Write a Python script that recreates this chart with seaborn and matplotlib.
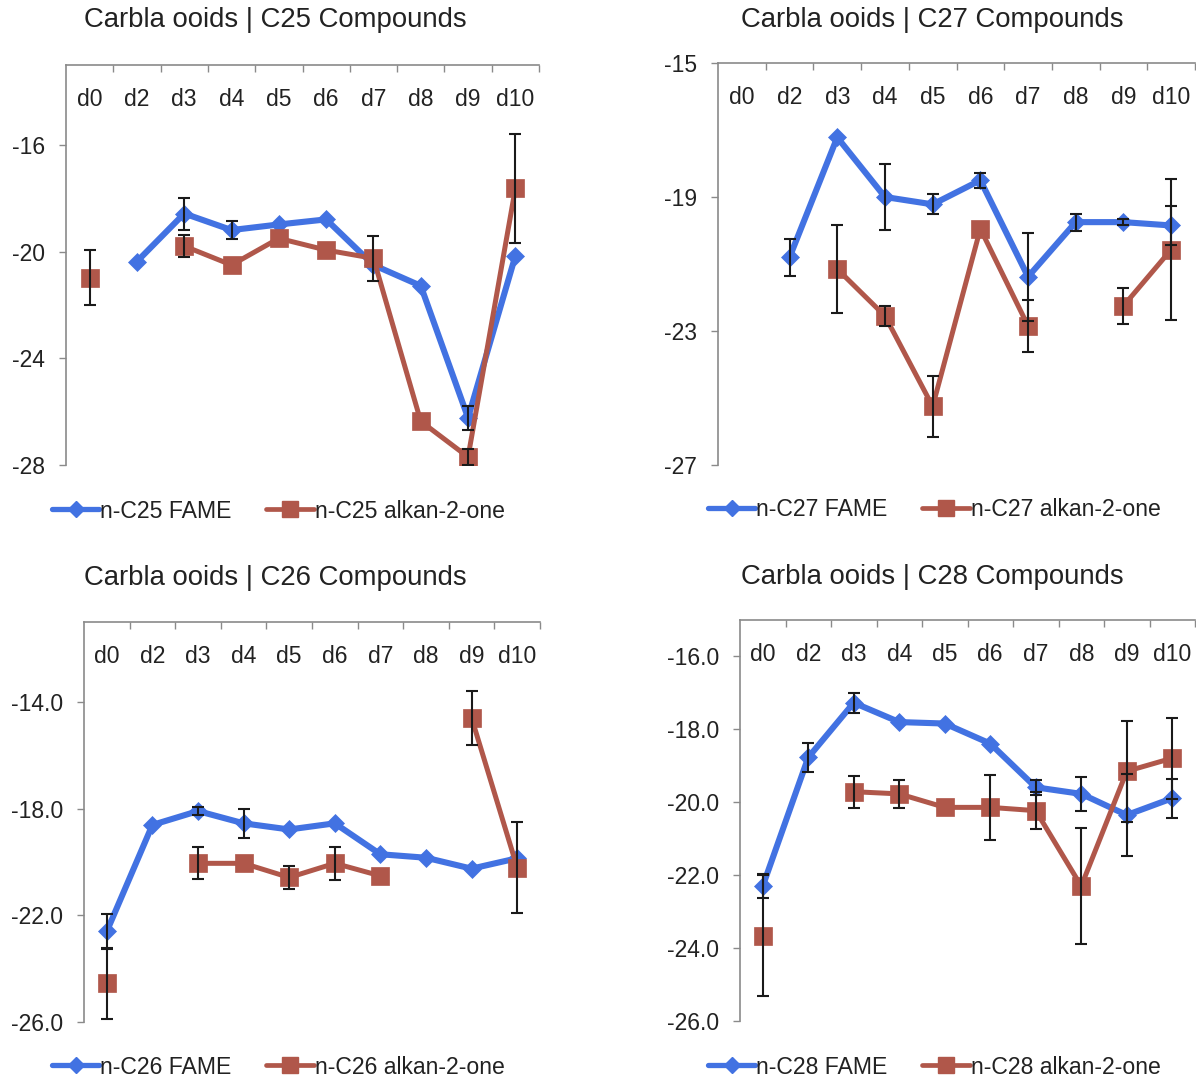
import numpy as np
import pandas as pd
import matplotlib
matplotlib.use('Agg')
import matplotlib.pyplot as plt
import seaborn as sns
from matplotlib.lines import Line2D
from matplotlib.ticker import FixedLocator, FormatStrFormatter

sns.set_theme(style='white')
plt.rcParams['font.family'] = ['Liberation Sans', 'DejaVu Sans']

nan = np.nan
days = ['d0', 'd2', 'd3', 'd4', 'd5', 'd6', 'd7', 'd8', 'd9', 'd10']

# C25
fame25 = [nan, -20.37, -18.57, -19.19, -18.98, -18.79, -20.5, -21.28, -26.23, -20.16]
fame25_err = [nan, nan, 0.6, 0.33, nan, nan, nan, nan, 0.45, nan]
ket25 = [-20.97, nan, -19.79, -20.5, -19.5, -19.94, -20.25, -26.36, -27.7, -17.63]
ket25_err = [1.03, nan, 0.4, nan, nan, nan, 0.84, nan, 0.3, 2.06]

# C27
fame27 = [nan, -20.8, -17.22, -19.0, -19.22, -18.5, -21.38, -19.75, -19.75, -19.85]
fame27_err = [nan, 0.55, nan, 0.98, 0.3, 0.22, 1.31, 0.25, 0.1, 0.57]
ket27 = [nan, nan, -21.15, -22.55, -25.25, -19.95, -22.85, nan, -22.25, -20.57]
ket27_err = [nan, nan, 1.3, 0.3, 0.92, nan, 0.78, nan, 0.53, 2.1]

# C26
fame26 = [-22.6, -18.61, -18.09, -18.55, -18.78, -18.55, -19.71, -19.84, -20.25, -19.86]
fame26_err = [0.65, nan, 0.15, 0.54, nan, nan, nan, nan, nan, nan]
ket26 = [-24.55, nan, -20.05, -20.05, -20.58, -20.05, -20.52, nan, -14.6, -20.21]
ket26_err = [1.33, nan, 0.6, nan, 0.42, 0.63, nan, nan, 1.0, 1.7]

# C28
fame28 = [-22.3, -18.77, -17.27, -17.8, -17.84, -18.39, -19.59, -19.77, -20.35, -19.89]
fame28_err = [0.32, 0.39, 0.27, nan, nan, nan, 0.2, 0.47, 1.12, 0.54]
ket28 = [-23.66, nan, -19.71, -19.77, -20.14, -20.14, -20.23, -22.3, -19.15, -18.79]
ket28_err = [1.66, nan, 0.44, 0.38, nan, 0.9, 0.5, 1.6, 1.38, 1.11]

BLUE = '#4272E2'
RED = '#B0574A'
TXT = '#222222'
SPINE = '#8a8a8a'

W, H = 1196, 1082
fig = plt.figure(figsize=(W / 100, H / 100), dpi=100)


def add_ax(l, t, r, b):
    return fig.add_axes([l / W, 1 - b / H, (r - l) / W, (b - t) / H])


panels = [
    dict(c='C25', fame=fame25, fe=fame25_err, ket=ket25, ke=ket25_err,
         box=(66, 65, 539, 465), ylim=(-28, -13), yt=[-28, -24, -20, -16], fmt='%d',
         title=(275, 20), leg=(52, 511)),
    dict(c='C27', fame=fame27, fe=fame27_err, ket=ket27, ke=ket27_err,
         box=(718, 63, 1195, 465), ylim=(-27, -15), yt=[-27, -23, -19, -15], fmt='%d',
         title=(932, 20), leg=(708, 510)),
    dict(c='C26', fame=fame26, fe=fame26_err, ket=ket26, ke=ket26_err,
         box=(84, 622, 540, 1022), ylim=(-26, -11), yt=[-26, -22, -18, -14], fmt='%.1f',
         title=(275, 578), leg=(52, 1067)),
    dict(c='C28', fame=fame28, fe=fame28_err, ket=ket28, ke=ket28_err,
         box=(740, 620, 1195, 1021), ylim=(-26, -15), yt=[-26, -24, -22, -20, -18, -16], fmt='%.1f',
         title=(932, 577), leg=(708, 1067)),
]


def series_df(vals):
    v = np.array(vals, dtype=float)
    seg = np.cumsum(np.isnan(v))
    df = pd.DataFrame({'x': np.arange(len(v)), 'y': v, 'seg': seg})
    return df.dropna(subset=['y'])


for p in panels:
    ax = add_ax(*p['box'])
    for vals, errs, col, mk, ms, lw in [(p['fame'], p['fe'], BLUE, 'D', 9.5, 4.4),
                                        (p['ket'], p['ke'], RED, 's', 13.5, 3.6)]:
        df = series_df(vals)
        sns.lineplot(data=df, x='x', y='y', units='seg', estimator=None, color=col,
                     lw=lw, marker=mk, markersize=ms, markeredgecolor=col,
                     markeredgewidth=0.5, ax=ax, legend=False, sort=True)
    for vals, errs in [(p['fame'], p['fe']), (p['ket'], p['ke'])]:
        v = np.array(vals, dtype=float)
        e = np.array(errs, dtype=float)
        m = ~np.isnan(v) & ~np.isnan(e)
        ax.errorbar(np.arange(len(v))[m], v[m], yerr=e[m], fmt='none', ecolor='#1a1a1a',
                    elinewidth=1.5, capsize=4.2, capthick=1.5, zorder=5)

    ax.set_xlim(-0.5, 9.5)
    ax.set_ylim(*p['ylim'])
    ax.set_xlabel('')
    ax.set_ylabel('')
    ax.grid(False)
    ax.xaxis.tick_top()
    ax.set_xticks(range(len(days)))
    ax.set_xticklabels(days)
    ax.xaxis.set_minor_locator(FixedLocator(np.arange(0.5, 9.6, 1.0)))
    ax.tick_params(axis='x', which='major', length=0, pad=-33, labelsize=16.5,
                   labelcolor=TXT, top=True, bottom=False)
    ax.tick_params(axis='x', which='minor', direction='in', length=5, width=1,
                   color=SPINE, top=True, bottom=False)
    ax.set_yticks(p['yt'])
    ax.yaxis.set_major_formatter(FormatStrFormatter(p['fmt']))
    ax.tick_params(axis='y', which='major', direction='out', length=5, width=1,
                   color=SPINE, pad=10, labelsize=16.5, labelcolor=TXT, left=True)
    for s in ['right', 'bottom']:
        ax.spines[s].set_visible(False)
    for s in ['top', 'left']:
        ax.spines[s].set_visible(True)
        ax.spines[s].set_color(SPINE)
        ax.spines[s].set_linewidth(1.2)

    tx, ty = p['title']
    fig.text(tx / W, 1 - ty / H, f'Carbla ooids | {p["c"]} Compounds', ha='center',
             va='center', fontsize=19.8, color=TXT)

    handles = [Line2D([0], [0], color=BLUE, lw=3.8, marker='D', markersize=8.5,
                      markeredgecolor=BLUE),
               Line2D([0], [0], color=RED, lw=3.4, marker='s', markersize=11.5,
                      markeredgecolor=RED)]
    labels = [f'n-{p["c"]} FAME', f'n-{p["c"]} alkan-2-one']
    lx, ly = p['leg']
    ax.legend(handles, labels, loc='center left', bbox_to_anchor=(lx / W, 1 - ly / H),
              bbox_transform=fig.transFigure, ncol=2, frameon=False, fontsize=16.6,
              handlelength=2.05, handletextpad=0.05, columnspacing=1.5, borderpad=0,
              borderaxespad=0, labelcolor=TXT)

fig.savefig('out.png', dpi=100)
